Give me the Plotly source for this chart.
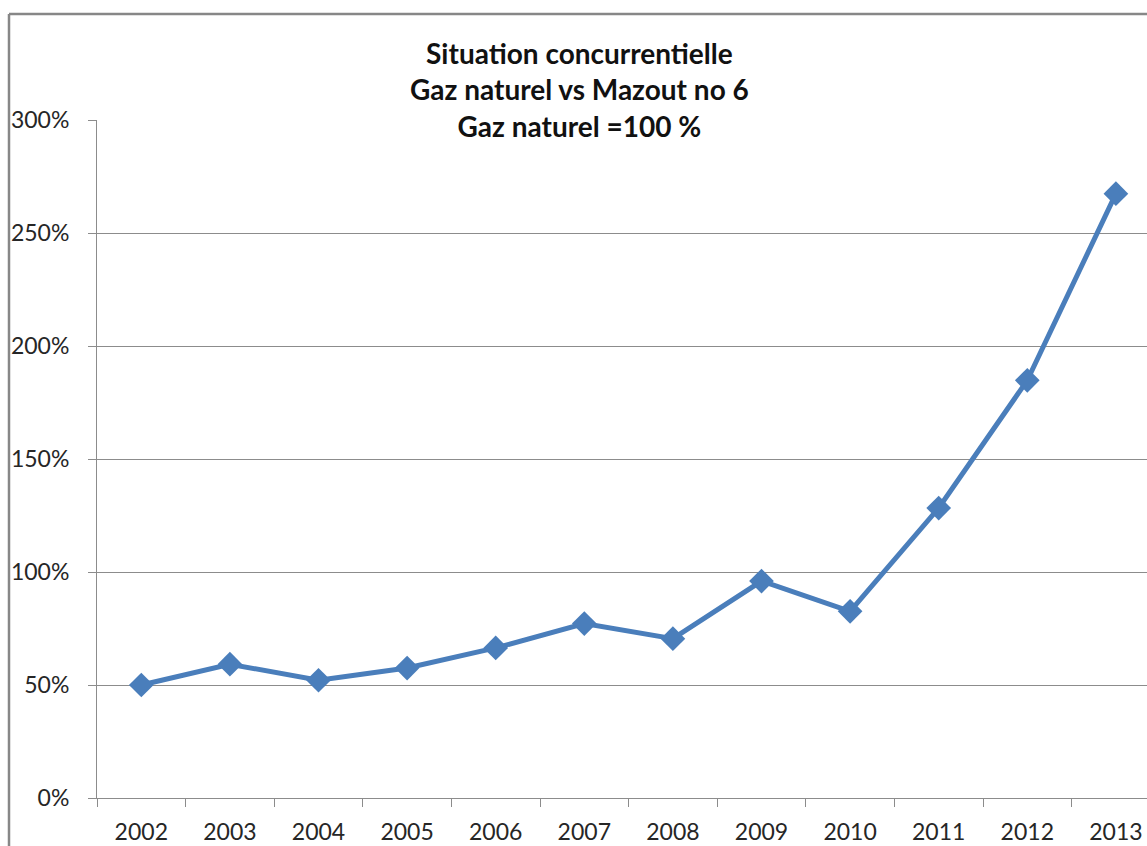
import plotly.graph_objects as go

years = ["2002", "2003", "2004", "2005", "2006", "2007", "2008", "2009", "2010", "2011", "2012", "2013"]
ratio = [0.50, 0.592, 0.521, 0.575, 0.664, 0.772, 0.705, 0.960, 0.826, 1.283, 1.848, 2.674]
y_ticks = [0, 0.5, 1.0, 1.5, 2.0, 2.5, 3.0]
y_tick_labels = ["0%", "50%", "100%", "150%", "200%", "250%", "300%"]
title_lines = ["Situation concurrentielle", "Gaz naturel vs Mazout no 6", "Gaz naturel =100 %"]

W, H = 1147, 846
L, T = 97, 120
B = H - 798
plot_w = W - L
plot_h = H - T - B

fig = go.Figure()
fig.add_trace(go.Scatter(
    x=years, y=ratio, mode="lines+markers",
    line=dict(color="#4A7EBB", width=5),
    marker=dict(symbol="diamond", size=19, color="#4A7EBB"),
    showlegend=False, cliponaxis=False,
))

grid = "#8C8C8C"
font = "Lato, 'Open Sans', sans-serif"
fig.update_layout(
    width=W, height=H,
    margin=dict(l=L, r=0, t=T, b=B, pad=0, autoexpand=False),
    paper_bgcolor="white", plot_bgcolor="white",
    font=dict(family=font, size=22, color="#262626"),
    xaxis=dict(
        type="category", range=[-0.5, -0.5 + (1147 - 97) / 88.6],
        tickson="boundaries", ticks="outside", ticklen=8, tickcolor=grid,
        showgrid=False, showline=True, linecolor=grid, linewidth=1,
        tickfont=dict(size=23), ticklabelstandoff=13, automargin=False,
    ),
    yaxis=dict(
        range=[0, 3.0], tickvals=y_ticks, ticktext=y_tick_labels,
        ticks="outside", ticklen=8, tickcolor=grid,
        showgrid=True, gridcolor=grid, gridwidth=1,
        showline=True, linecolor=grid, linewidth=1, zeroline=False,
        tickfont=dict(size=23), ticklabelstandoff=14, automargin=False,
    ),
)

fig.add_annotation(
    text="<br>".join("<b>%s</b>" % s for s in title_lines),
    xref="paper", yref="paper",
    x=(579 - L) / plot_w, y=(H - 34 - B) / plot_h,
    xanchor="center", yanchor="top", showarrow=False,
    font=dict(family=font, size=28, color="#111111"),
    align="center",
)

# chart frame (left and top border)
x0 = (9 - L) / plot_w
ytop = (H - 14 - B) / plot_h
fig.add_shape(type="line", xref="paper", yref="paper", x0=x0, x1=x0, y0=-1, y1=ytop,
              line=dict(color="#878787", width=2.5))
fig.add_shape(type="line", xref="paper", yref="paper", x0=x0, x1=1.05, y0=ytop, y1=ytop,
              line=dict(color="#878787", width=2.5))

fig.write_html(
    "out.html",
    config={"displayModeBar": False},
    post_script="document.body.style.margin='0';document.body.style.overflow='hidden';",
)
